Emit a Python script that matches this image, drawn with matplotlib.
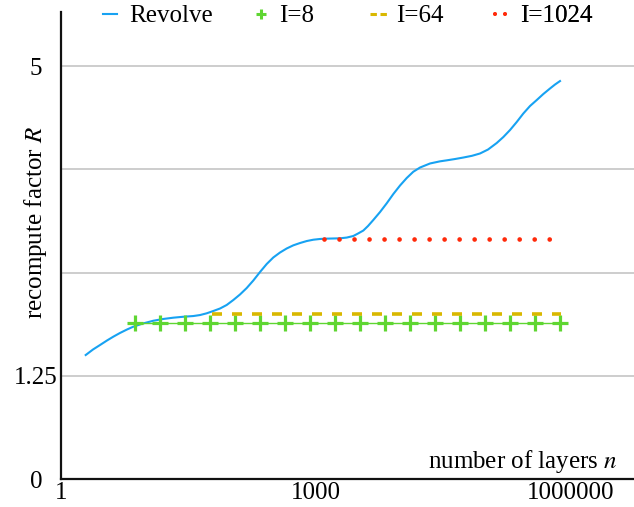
import matplotlib
matplotlib.use('Agg')
import matplotlib.pyplot as plt
from matplotlib.lines import Line2D
from matplotlib.ticker import NullLocator

# ---------------- data ----------------
revolve_n = [1.928, 2.350, 2.841, 3.436, 4.075, 4.887, 5.908, 7.012, 9.120, 12.06,
             15.69, 20.74, 26.98, 35.68, 42.79, 51.31, 61.38, 73.60, 88.28, 105.6,
             126.6, 151.8, 181.6, 217.8, 261.2, 312.4, 374.7, 449.3, 537.4, 644.5,
             773.0, 924.5, 1109, 1330, 1590, 1907, 2287, 2735, 3107, 3588,
             4075, 4706, 5644, 6768, 8094, 9706, 11640, 13920, 16700, 21900,
             28720, 34440, 43140, 54030, 68420, 84990, 105600, 133700, 159900, 191800,
             229900, 275000, 329900, 395600, 473100, 567400, 649800, 744000]
revolve_r = [1.501, 1.568, 1.622, 1.677, 1.723, 1.768, 1.810, 1.844, 1.883, 1.916,
             1.937, 1.953, 1.964, 1.973, 1.985, 2.006, 2.034, 2.064, 2.107, 2.167,
             2.234, 2.312, 2.403, 2.506, 2.603, 2.682, 2.742, 2.791, 2.829, 2.857,
             2.881, 2.897, 2.906, 2.910, 2.912, 2.914, 2.923, 2.942, 2.972, 3.008,
             3.063, 3.136, 3.232, 3.338, 3.450, 3.553, 3.644, 3.720, 3.771, 3.820,
             3.846, 3.858, 3.874, 3.892, 3.913, 3.941, 3.989, 4.068, 4.140, 4.225,
             4.322, 4.425, 4.516, 4.588, 4.661, 4.728, 4.776, 4.818]

i8_n = [7.34, 14.5, 28.5, 56.1, 110.5, 217.7, 428.9, 845, 1665, 3280,
        6461, 12730, 25080, 49400, 97330, 191700, 377700, 744100]
i8_r = [1.885, 1.885, 1.885, 1.885, 1.885, 1.885, 1.885, 1.885, 1.885, 1.885,
        1.885, 1.885, 1.885, 1.885, 1.885, 1.885, 1.885, 1.885]

i64_n = [58.8, 764000]
i64_r = [1.994, 1.994]

i1024_n = [1245, 567000]
i1024_r = [2.90, 2.90]

series_labels = ['Revolve', 'I=8', 'I=64', 'I=1024']
x_ticks = [1, 1000, 1000000]
x_ticklabels = ['1', '1000', '1000000']
y_ticks = [0, 1.25, 2.5, 3.75, 5]
y_ticklabels = ['0', '1.25', '', '', '5']

# ---------------- style ----------------
plt.rcParams['font.family'] = ['Liberation Serif', 'DejaVu Serif']
plt.rcParams['mathtext.fontset'] = 'stix'
plt.rcParams['font.size'] = 18
plt.rcParams['lines.scale_dashes'] = False

c_blue = '#17a2f2'
c_green = '#5fd632'
c_gold = '#d9b800'
c_red = '#ff2a0a'

W, H = 634, 507
fig = plt.figure(figsize=(W / 100, H / 100), dpi=100)
ax_left, ax_bottom_px, ax_top_px = 61.5, 479, 12
ax = fig.add_axes([ax_left / W, (H - ax_bottom_px) / H, 1 - ax_left / W,
                   (ax_bottom_px - ax_top_px) / H])

ax.set_xscale('log')
ax.set_xlim(1, 10 ** 6.743)
ax.set_ylim(0, 5.654)

for s in ['top', 'right']:
    ax.spines[s].set_visible(False)
for s in ['left', 'bottom']:
    ax.spines[s].set_linewidth(1.6)
    ax.spines[s].set_color('#111111')

ax.set_yticks(y_ticks)
ax.set_yticklabels(y_ticklabels)
ax.set_xticks(x_ticks)
ax.set_xticklabels(x_ticklabels)
ax.xaxis.set_minor_locator(NullLocator())
ax.tick_params(axis='both', length=0)
ax.tick_params(axis='x', pad=2)
ax.tick_params(axis='y', pad=18.4)
for t in ax.get_yticklabels():
    t.set_horizontalalignment('center')

ax.grid(axis='y', color='#c0c0c0', lw=1.1)
ax.set_axisbelow(True)

# ---------------- series ----------------
ax.plot(revolve_n, revolve_r, color=c_blue, lw=1.5, label=series_labels[0],
        solid_joinstyle='round')
ax.plot(i8_n, i8_r, color=c_green, lw=1.0, marker='+', markersize=12,
        markeredgewidth=2.3, label=series_labels[1])
l64, = ax.plot(i64_n, i64_r, color=c_gold, lw=2.6, label=series_labels[2])
l64.set_dashes((7.2, 7.2))
l1024, = ax.plot(i1024_n, i1024_r, color=c_red, lw=3.4, label=series_labels[3],
                 dash_capstyle='round')
l1024.set_dashes((0.01, 10.8))

# ---------------- labels ----------------
ax.set_ylabel('recompute factor $R$')
ax.yaxis.label.set_verticalalignment('baseline')
ax.yaxis.set_label_coords((42 - ax_left) / (W - ax_left), 0.55)

ax.set_xlabel('number of layers $n$')
ax.xaxis.label.set_horizontalalignment('right')
ax.xaxis.label.set_verticalalignment('baseline')
ax.xaxis.set_label_coords((617 - ax_left) / (W - ax_left), (479 - 468) / 467)

# ---------------- legend (one entry per legend for exact placement) ----------------
h_rev = Line2D([], [], color=c_blue, lw=1.5)
h_8 = Line2D([], [], color=c_green, lw=0, marker='+', markersize=7, markeredgewidth=2.2)
h_64 = Line2D([], [], color=c_gold, lw=2.2)
h_64.set_dashes((4.6, 2.6))
h_1024 = Line2D([], [], color=c_red, lw=2.8, dash_capstyle='round')
h_1024.set_dashes((0.01, 7.2))

entries = [
    (h_rev, series_labels[0], 103, 0.56, 0.48),
    (h_8, series_labels[1], 256, 0.40, 0.52),
    (h_64, series_labels[2], 370, 0.68, 0.36),
    (h_1024, series_labels[3], 495, 0.44, 0.56),
]
leg_y = 1 - 16 / H
for h, lab, xpx, hl, tp in entries:
    leg = ax.legend([h], [lab], loc='center left', bbox_to_anchor=(xpx / W, leg_y),
                    bbox_transform=fig.transFigure, frameon=False, borderpad=0,
                    borderaxespad=0, handlelength=hl, handletextpad=tp,
                    fontsize=18, numpoints=1)
    ax.add_artist(leg)

fig.savefig('out.png', dpi=100)
